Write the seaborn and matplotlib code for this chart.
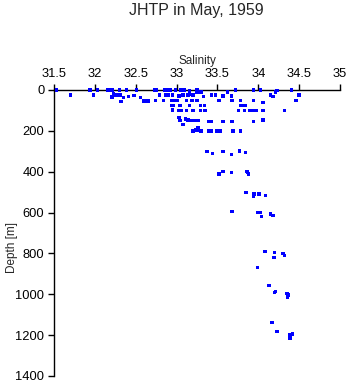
import matplotlib
matplotlib.use("Agg")
import matplotlib.pyplot as plt
import seaborn as sns
import pandas as pd

# Salinity (psu) and depth (m) of the bottle samples
salinity = [
    31.53, 31.94, 32.03, 32.16, 32.21, 32.30, 32.39, 32.51, 32.73, 32.75, 32.85, 32.88,
    32.92, 32.99, 33.05, 33.09, 33.16, 33.25, 33.72, 33.94, 34.03, 34.23, 34.41,
    31.70, 31.98, 32.23, 32.26, 32.21, 32.31, 32.35, 32.32, 32.41, 32.48, 32.56, 32.60,
    32.65, 32.79, 32.87, 32.90, 32.95, 33.03, 33.08, 33.14, 33.16, 33.20, 33.25, 33.30,
    33.33, 33.43, 33.48, 33.57, 33.62, 33.67, 34.21, 34.15, 34.18, 34.50,
    32.74, 32.84, 32.94, 32.98, 33.01, 33.12, 33.19, 33.25, 33.52, 33.68, 33.78, 33.94,
    34.06, 34.46,
    32.94, 32.96, 33.04, 33.16, 33.29, 33.34, 33.78, 33.80, 33.84,
    32.95, 33.02, 33.06, 33.12, 33.20, 33.29, 33.35, 33.76, 33.83, 33.90, 33.94, 33.97,
    34.06, 34.32,
    33.03, 33.11, 33.14, 33.04, 33.19, 33.23, 33.27, 33.39, 33.43, 33.57, 33.68, 33.94,
    34.06, 33.08,
    33.20, 33.23, 33.26, 33.27, 33.30, 33.39, 33.43, 33.49, 33.53, 33.69, 33.78,
    33.37, 33.44, 33.57, 33.67, 33.77, 33.84,
    33.52, 33.57, 33.67, 33.86, 33.88, 33.87,
    33.85, 33.95, 33.94, 34.01, 34.09,
    33.68, 33.99, 34.03, 34.04, 34.15, 34.18,
    34.08, 34.20, 34.19, 34.30, 34.32, 33.99,
    34.13, 34.20, 34.21, 34.35, 34.37, 34.36,
    34.17, 34.23, 34.39, 34.42, 34.39,
]
depth = [
    0, 0, 0, 0, 0, 0, 0, 0, 0, 0, 0, 0,
    0, 0, 0, 0, 3, 0, 0, 0, 0, 3, 0,
    25, 25, 16, 25, 34, 25, 36, 55, 31, 26, 36, 54,
    54, 25, 25, 25, 25, 29, 25, 25, 20, 25, 11, 10,
    33, 25, 25, 29, 10, 29, 10, 25, 33, 25,
    52, 52, 52, 52, 52, 52, 52, 52, 52, 52, 52, 52,
    60, 52,
    77, 77, 77, 77, 77, 77, 77, 77, 77,
    98, 100, 101, 101, 101, 101, 101, 101, 101, 101, 101, 101,
    101, 101,
    134, 142, 147, 150, 150, 150, 150, 153, 153, 153, 153, 153,
    147, 170,
    200, 196, 183, 196, 200, 200, 200, 200, 200, 200, 200,
    302, 311, 302, 315, 298, 305,
    411, 400, 403, 400, 411, 405,
    501, 509, 522, 510, 515,
    594, 600, 600, 618, 607, 613,
    790, 794, 819, 800, 809, 868,
    956, 990, 985, 995, 1003, 1014,
    1137, 1181, 1199, 1194, 1215,
]

x_ticks = [31.5, 32, 32.5, 33, 33.5, 34, 34.5, 35]
x_tick_labels = ["31.5", "32", "32.5", "33", "33.5", "34", "34.5", "35"]
y_ticks = [0, 200, 400, 600, 800, 1000, 1200, 1400]

df = pd.DataFrame({"Salinity": salinity, "Depth": depth})

sns.set_style("ticks")
plt.rcParams["font.family"] = ["Liberation Sans", "DejaVu Sans"]

fig = plt.figure(figsize=(3.48, 3.84), dpi=100)
ax = fig.add_axes([54 / 348, 8 / 384, 286 / 348, 286 / 384])

sns.scatterplot(data=df, x="Salinity", y="Depth", ax=ax, marker="s", s=6,
                color="#0000ff", linewidth=0, edgecolor="none",
                clip_on=False, zorder=5)

ax.set_xlim(31.5, 35)
ax.set_ylim(1400, 0)
ax.set_xticks(x_ticks)
ax.set_xticklabels(x_tick_labels)
ax.set_yticks(y_ticks)

ax.xaxis.tick_top()
ax.xaxis.set_label_position("top")
for side in ("right", "bottom"):
    ax.spines[side].set_visible(False)
for side in ("top", "left"):
    ax.spines[side].set_linewidth(1.0)
    ax.spines[side].set_color("black")

ax.tick_params(axis="both", direction="out", length=4, width=1, labelsize=9.3,
               colors="black", pad=3)
ax.set_xlabel("Salinity", fontsize=8.5, labelpad=3)
ax.set_ylabel("Depth [m]", fontsize=8.5)
ax.yaxis.set_label_coords(-0.125, 0.45)

fig.text(196 / 348, 1 - 11 / 384, "JHTP in May, 1959", ha="center", va="center",
         fontsize=11.5)

fig.savefig("out.png", dpi=100)
